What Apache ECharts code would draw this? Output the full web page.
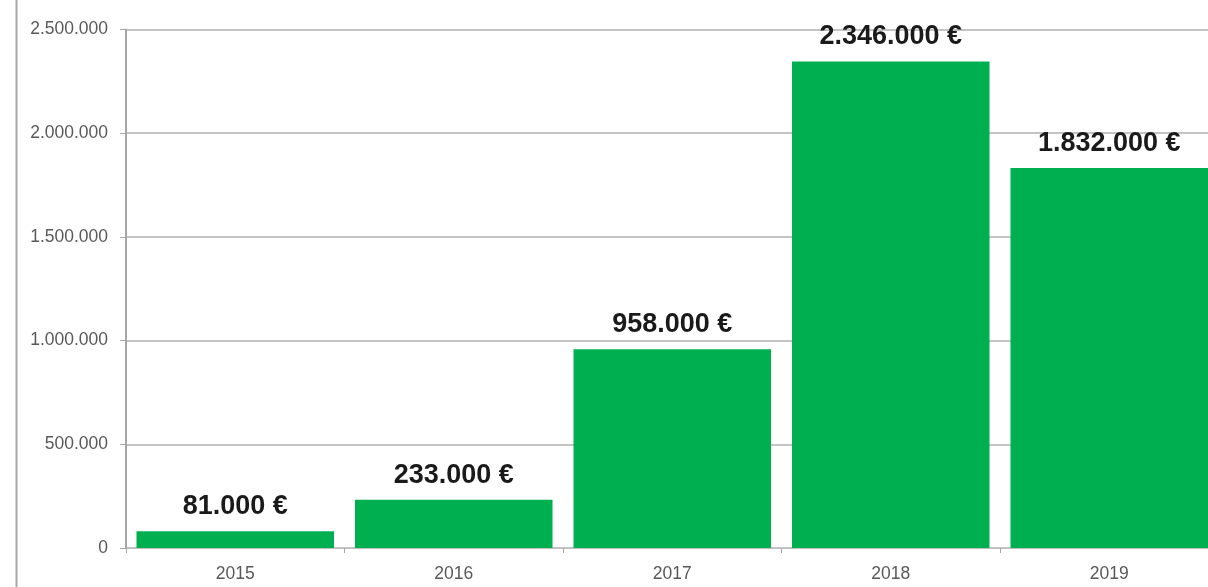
<!DOCTYPE html>
<html>
<head>
<meta charset="utf-8">
<script src="https://cdn.jsdelivr.net/npm/echarts@6/dist/echarts.min.js"></script>
<style>
html,body{margin:0;padding:0;background:#fff;overflow:hidden;}
#chart{width:1220px;height:587px;}
</style>
</head>
<body>
<div id="chart"></div>
<script>
const categories = ['2015', '2016', '2017', '2018', '2019'];
const values = [81000, 233000, 958000, 2346000, 1832000];
const yTicks = [0, 500000, 1000000, 1500000, 2000000, 2500000];

function fmt(v) {
  return String(Math.round(v)).replace(/\B(?=(\d{3})+(?!\d))/g, '.');
}

const chart = echarts.init(document.getElementById('chart'), null, {renderer: 'canvas'});
chart.setOption({
  animation: false,
  backgroundColor: '#ffffff',
  grid: {left: 126, right: 1.5, top: 29.5, bottom: 39, containLabel: false},
  graphic: [{
    type: 'line',
    shape: {x1: 16.5, y1: 0, x2: 16.5, y2: 587},
    style: {stroke: '#a8a8a8', lineWidth: 2}
  }],
  xAxis: {
    type: 'category',
    data: categories,
    axisLine: {show: true, lineStyle: {color: '#bfbfbf', width: 1}},
    axisTick: {show: true, length: 5, lineStyle: {color: '#a6a6a6'}},
    axisLabel: {color: '#595959', fontSize: 17.5, fontFamily: 'Liberation Sans, Arial, sans-serif', margin: 17}
  },
  yAxis: {
    type: 'value',
    min: yTicks[0],
    max: yTicks[yTicks.length - 1],
    interval: yTicks[1] - yTicks[0],
    axisLine: {show: true, lineStyle: {color: '#a6a6a6', width: 2}},
    axisTick: {show: true, length: 6, lineStyle: {color: '#a6a6a6'}},
    splitLine: {show: true, lineStyle: {color: '#c4c4c4', width: 2}},
    axisLabel: {
      color: '#595959', fontSize: 17.5, fontFamily: 'Liberation Sans, Arial, sans-serif', margin: 18,
      formatter: v => fmt(v)
    }
  },
  series: [{
    type: 'bar',
    data: values,
    barCategoryGap: '9.6%',
    itemStyle: {color: '#00b050'},
    label: {
      show: true,
      position: 'top',
      distance: 11,
      color: '#1a1a1a',
      fontWeight: 'bold',
      fontSize: 27,
      fontFamily: 'Liberation Sans, Arial, sans-serif',
      formatter: p => fmt(p.value) + ' €'
    }
  }]
});
</script>
</body>
</html>
